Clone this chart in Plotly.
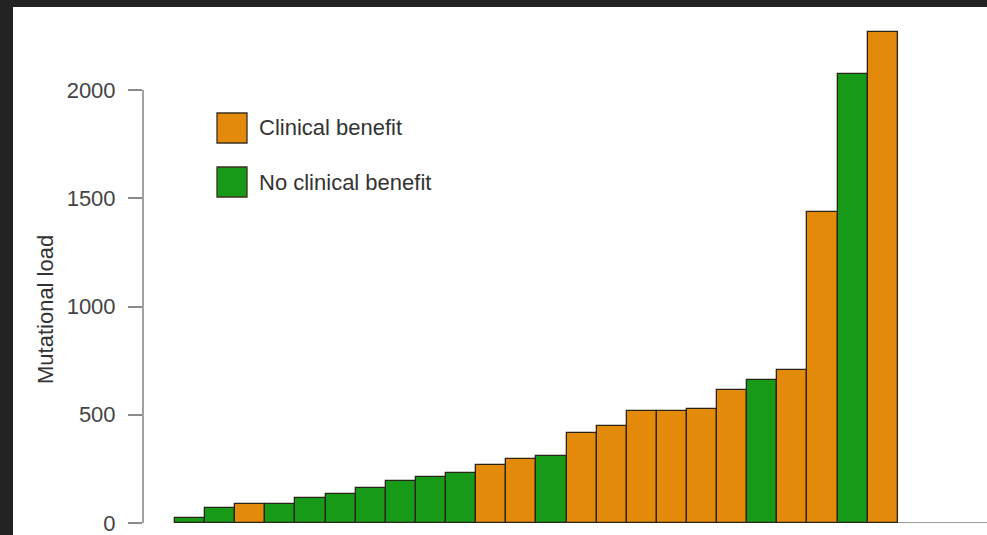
import plotly.graph_objects as go

# Mutational load per patient, sorted ascending, with clinical-benefit group
mutational_load = [25, 67, 88, 89, 116, 132, 162, 193, 212, 230, 268, 294,
                   310, 417, 448, 518, 518, 525, 613, 660, 705, 1435, 2072, 2268]
group = ["none", "none", "benefit", "none", "none", "none", "none", "none",
         "none", "none", "benefit", "benefit", "none", "benefit", "benefit",
         "benefit", "benefit", "benefit", "benefit", "none", "benefit",
         "benefit", "none", "benefit"]
legend_labels = {"benefit": "Clinical benefit", "none": "No clinical benefit"}
y_ticks = [0, 500, 1000, 1500, 2000]

ORANGE = "#E38A0A"
GREEN = "#169A18"
colors = {"benefit": ORANGE, "none": GREEN}

W, H = 987, 535
M_L, M_R, M_T, M_B = 143, 0, 20, 12
PW, PH = W - M_L - M_R, H - M_T - M_B
PX_PER_UNIT = 0.2165


def px_x(px):
    return (px - M_L) / PW


def px_y(py):
    return (H - M_B - py) / PH


xs = list(range(len(mutational_load)))

fig = go.Figure()
fig.add_trace(go.Bar(
    x=xs,
    y=mutational_load,
    width=1.0,
    marker=dict(color=[colors[g] for g in group],
                line=dict(color="#2a2418", width=1.3)),
    showlegend=False,
    hoverinfo="y",
))

x_lo, x_hi = -1.562, 26.46
shapes = [
    # baseline to the right
    dict(type="line", xref="x", yref="y", x0=-0.5, x1=x_hi, y0=0, y1=0,
         line=dict(color="#9a9a9a", width=2), layer="below"),
    # y axis line spanning the tick range
    dict(type="line", xref="paper", yref="y", x0=0, x1=0, y0=0, y1=2000,
         line=dict(color="#8a8a8a", width=1.6)),
]

# legend boxes and labels
annotations = []
for i, key in enumerate(["benefit", "none"]):
    top = 113 + i * 54
    shapes.append(dict(type="rect", xref="paper", yref="paper",
                       x0=px_x(217), x1=px_x(247), y0=px_y(top), y1=px_y(top + 30),
                       fillcolor=colors[key], line=dict(color="#3a3020", width=1.3)))
    annotations.append(dict(text=legend_labels[key], xref="paper", yref="paper",
                            x=px_x(257), y=px_y(top + 15), xanchor="left",
                            yanchor="middle", showarrow=False,
                            font=dict(size=22, color="#333333")))

annotations.append(dict(text="Mutational load", xref="paper", yref="paper",
                        x=px_x(45), y=px_y(310), textangle=-90,
                        xanchor="center", yanchor="middle", showarrow=False,
                        font=dict(size=22, color="#333333")))

# dark frame at top and left
shapes.append(dict(type="rect", xref="paper", yref="paper",
                   x0=px_x(-2), x1=px_x(W + 2), y0=px_y(7), y1=px_y(-2),
                   fillcolor="#232323", line=dict(width=0), layer="above"))
shapes.append(dict(type="rect", xref="paper", yref="paper",
                   x0=px_x(-2), x1=px_x(13), y0=px_y(H + 2), y1=px_y(-2),
                   fillcolor="#232323", line=dict(width=0), layer="above"))

fig.update_layout(
    width=W, height=H,
    margin=dict(l=M_L, r=M_R, t=M_T, b=M_B, autoexpand=False),
    paper_bgcolor="white", plot_bgcolor="white",
    font=dict(family="Liberation Sans, Arial, sans-serif", color="#444444"),
    bargap=0,
    xaxis=dict(range=[x_lo, x_hi], visible=False, automargin=False),
    yaxis=dict(range=[0, PH / PX_PER_UNIT], tickvals=y_ticks, automargin=False,
               ticks="outside", ticklen=14, tickwidth=1.5, tickcolor="#8a8a8a",
               showgrid=False, zeroline=False, showline=False,
               ticklabelstandoff=8, ticklabeloverflow="allow",
               tickfont=dict(size=22, color="#444444")),
    shapes=shapes,
    annotations=annotations,
)

fig.write_html("out.html")
